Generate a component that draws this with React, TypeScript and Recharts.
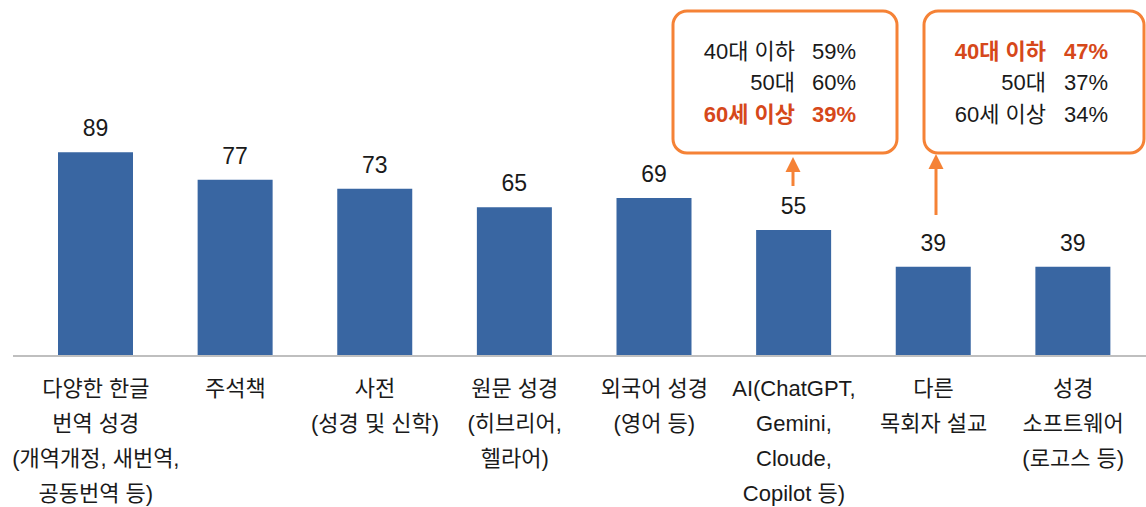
import { BarChart, Bar, XAxis, YAxis, LabelList } from 'recharts';

const categories = [
  ['다양한 한글', '번역 성경', '(개역개정, 새번역,', '공동번역 등)'],
  ['주석책'],
  ['사전', '(성경 및 신학)'],
  ['원문 성경', '(히브리어,', '헬라어)'],
  ['외국어 성경', '(영어 등)'],
  ['AI(ChatGPT,', 'Gemini,', 'Cloude,', 'Copilot 등)'],
  ['다른', '목회자 설교'],
  ['성경', '소프트웨어', '(로고스 등)'],
];
const values = [89, 77, 73, 65, 69, 55, 39, 39];

const ageGroups = ['40대 이하', '50대', '60세 이상'];
const aiByAge = [59, 60, 39];
const aiHighlight = 2;
const sermonByAge = [47, 37, 34];
const sermonHighlight = 0;

const data = values.map((v, i) => ({ name: String(i), value: v, lines: categories[i] }));

const FONT = "'Liberation Sans', 'Noto Sans CJK KR', sans-serif";
const BAR = '#3966A2';
const ORANGE = '#F58236';
const RED = '#D6481A';
const TEXT = '#1a1a1a';

function CategoryTick(props: any) {
  const { x, y, payload } = props;
  const lines = categories[Number(payload.value)] || [];
  return (
    <g transform={`translate(${x},${y})`}>
      <text textAnchor="middle" fontSize={22} fill={TEXT} fontFamily={FONT}>
        {lines.map((l, i) => (
          <tspan key={i} x={0} y={39.5 + i * 35}>
            {l}
          </tspan>
        ))}
      </text>
    </g>
  );
}

function AgeBox(props: { x: number; w: number; vals: number[]; hi: number; labelEnd: number; valStart: number }) {
  const { x, w, vals, hi, labelEnd, valStart } = props;
  return (
    <g>
      <rect x={x} y={11} width={w} height={142} rx={14} ry={14} fill="#fff" stroke={ORANGE} strokeWidth={3} />
      {ageGroups.map((g, i) => {
        const bold = i === hi;
        const fill = bold ? RED : TEXT;
        const yy = 58.5 + i * 31.5;
        return (
          <g key={g} fontSize={22} fontFamily={FONT} fill={fill} fontWeight={bold ? 700 : 400}>
            <text x={labelEnd} y={yy} textAnchor="end">{g}</text>
            <text x={valStart} y={yy} textAnchor="start">{vals[i]}%</text>
          </g>
        );
      })}
    </g>
  );
}

export default function App() {
  return (
    <div style={{ position: 'relative', width: 1146, height: 507 }}>
      <style>{'body{margin:0}'}</style>
      <BarChart width={1146} height={507} data={data} margin={{ top: 127, right: 0, bottom: 0, left: 13 }}>
        <XAxis
          dataKey="name"
          interval={0}
          tick={<CategoryTick />}
          tickLine={false}
          tickSize={0}
          tickMargin={0}
          height={151}
          padding={{ left: 13, right: 3 }}
          axisLine={{ stroke: '#BFBFBF', strokeWidth: 2 }}
        />
        <YAxis hide domain={[0, 100]} />
        <Bar dataKey="value" fill={BAR} barSize={75} isAnimationActive={false}>
          <LabelList dataKey="value" position="top" offset={16} fontSize={23} fill={TEXT} fontFamily={FONT} />
        </Bar>
      </BarChart>
      <svg width={1146} height={507} style={{ position: 'absolute', left: 0, top: 0, pointerEvents: 'none' }}>
        <AgeBox x={673} w={224} vals={aiByAge} hi={aiHighlight} labelEnd={795} valStart={812} />
        <AgeBox x={924} w={220} vals={sermonByAge} hi={sermonHighlight} labelEnd={1046} valStart={1064} />
        <line x1={793} y1={186} x2={793} y2={170} stroke={ORANGE} strokeWidth={3} />
        <polygon points="793,157 785.5,172 800.5,172" fill={ORANGE} />
        <line x1={936} y1={215} x2={936} y2={167} stroke={ORANGE} strokeWidth={3} />
        <polygon points="936,154 928.5,169 943.5,169" fill={ORANGE} />
      </svg>
    </div>
  );
}
